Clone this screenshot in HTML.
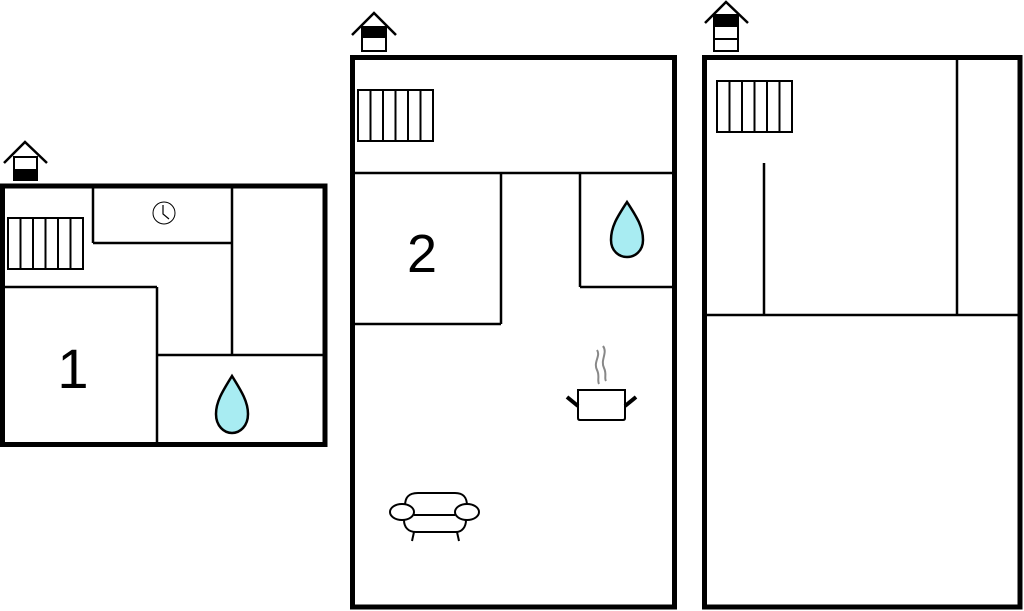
<!DOCTYPE html>
<html><head><meta charset="utf-8"><style>html,body{margin:0;padding:0;background:#fff}svg{display:block}</style></head>
<body>
<svg width="1024" height="611" viewBox="0 0 1024 611" xmlns="http://www.w3.org/2000/svg" fill="none" stroke="#000">
<!-- Plan 1 -->
<g stroke-width="2.5">
<line x1="93" y1="186" x2="93" y2="243"/><line x1="93" y1="243" x2="232" y2="243"/>
<line x1="232" y1="186" x2="232" y2="355"/>
<line x1="157" y1="355" x2="325" y2="355"/>
<line x1="2" y1="287" x2="157" y2="287"/><line x1="157" y1="287" x2="157" y2="444"/>
</g>
<rect x="2.5" y="186" width="322.5" height="258.5" stroke-width="5"/>
<g stroke-width="2">
<rect x="8" y="218" width="75" height="51"/>
<line x1="20.5" y1="218" x2="20.5" y2="269"/><line x1="33" y1="218" x2="33" y2="269"/><line x1="45.5" y1="218" x2="45.5" y2="269"/><line x1="58" y1="218" x2="58" y2="269"/><line x1="70.5" y1="218" x2="70.5" y2="269"/>
</g>
<circle cx="164" cy="213" r="11" stroke-width="1"/>
<polyline points="163,205 163,214 169,219" stroke-width="1.2"/>
<path d="M232,376 C222,392 216,402 216,414 C216,426 224,433 232,433 C240,433 248,426 248,414 C248,402 242,392 232,376 Z" fill="#a8ecf2" stroke-width="2.5"/>
<text x="73" y="388" font-family="Liberation Sans, sans-serif" font-size="56" text-anchor="middle" fill="#000" stroke="none">1</text>
<polyline points="4,163 25,142 47,163" stroke-width="2.5"/>
<rect x="14" y="157" width="23" height="23" stroke-width="2"/><rect x="13" y="169" width="25" height="12" fill="#000" stroke="none"/>

<!-- Plan 2 -->
<g stroke-width="2.5">
<line x1="352" y1="173" x2="674" y2="173"/>
<line x1="501" y1="173" x2="501" y2="324"/><line x1="352" y1="324" x2="501" y2="324"/>
<line x1="580" y1="173" x2="580" y2="287"/><line x1="580" y1="287" x2="674" y2="287"/>
</g>
<rect x="352.5" y="57.5" width="322" height="549.5" stroke-width="5"/>
<g stroke-width="2">
<rect x="358" y="90" width="75" height="51"/>
<line x1="370.5" y1="90" x2="370.5" y2="141"/><line x1="383" y1="90" x2="383" y2="141"/><line x1="395.5" y1="90" x2="395.5" y2="141"/><line x1="408" y1="90" x2="408" y2="141"/><line x1="420.5" y1="90" x2="420.5" y2="141"/>
</g>
<text x="422" y="272" font-family="Liberation Sans, sans-serif" font-size="54" text-anchor="middle" fill="#000" stroke="none">2</text>
<path d="M627,202 C618,216 611,226 611,240 C611,251 619,257 627,257 C635,257 643,251 643,240 C643,226 636,216 627,202 Z" fill="#a8ecf2" stroke-width="2.5"/>
<polyline points="352,35 374,13 396,35" stroke-width="2.5"/>
<rect x="362" y="27" width="24" height="24" stroke-width="2"/><rect x="362" y="27" width="24" height="11" fill="#000" stroke="none"/>
<!-- pot -->
<path d="M578,390 H625 V418 Q625,420 623,420 H580 Q578,420 578,418 Z" stroke-width="2"/>
<line x1="567" y1="397" x2="578" y2="406" stroke-width="4"/><line x1="636" y1="397" x2="625" y2="406" stroke-width="4"/>
<path d="M597,350 C601,356 593,362 597,370 C600,376 597,380 599,384" stroke="#888" stroke-width="2"/>
<path d="M603,346 C608,353 600,360 604,368 C607,374 604,378 606,381" stroke="#888" stroke-width="2"/>
<!-- sofa -->
<g stroke-width="2">
<path d="M405,506 C405,498 408,493 418,493 H455 C464,493 467,498 467,506"/>
<ellipse cx="402" cy="512" rx="12" ry="8" fill="#fff"/><ellipse cx="467" cy="512" rx="12" ry="8" fill="#fff"/>
<line x1="414" y1="515" x2="455" y2="515"/>
<path d="M404,520 C404,527 408,532 416,532 H456 C462,532 466,527 466,520"/>
<line x1="414" y1="532" x2="412" y2="541"/><line x1="457" y1="532" x2="459" y2="541"/>
</g>

<!-- Plan 3 -->
<g stroke-width="2.5">
<line x1="704" y1="315" x2="1020" y2="315"/>
<line x1="957" y1="57" x2="957" y2="315"/>
<line x1="764" y1="163" x2="764" y2="315"/>
</g>
<rect x="704.5" y="57.5" width="315.5" height="549.5" stroke-width="5"/>
<g stroke-width="2">
<rect x="717" y="81" width="75" height="51"/>
<line x1="729.5" y1="81" x2="729.5" y2="132"/><line x1="742" y1="81" x2="742" y2="132"/><line x1="754.5" y1="81" x2="754.5" y2="132"/><line x1="767" y1="81" x2="767" y2="132"/><line x1="779.5" y1="81" x2="779.5" y2="132"/>
</g>
<polyline points="705,23 726,2 748,23" stroke-width="2.5"/>
<rect x="714" y="15" width="24" height="36" stroke-width="2"/><rect x="714" y="15" width="24" height="12" fill="#000" stroke="none"/>
<line x1="714" y1="39" x2="738" y2="39" stroke-width="2"/>
</svg>
</body></html>
